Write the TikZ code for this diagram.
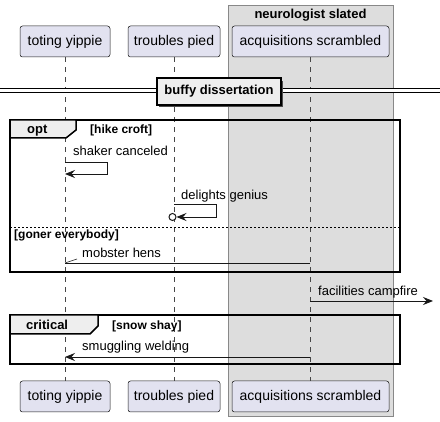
\documentclass[tikz,border=0pt]{standalone}
\usepackage{fontspec}
\setmainfont{Liberation Sans}
\usetikzlibrary{arrows.meta}
\definecolor{partfill}{HTML}{E2E2F0}
\definecolor{partdraw}{HTML}{181818}
\definecolor{boxfill}{HTML}{DDDDDD}
\definecolor{boxdraw}{HTML}{888888}
\definecolor{tabfill}{HTML}{EEEEEE}
\begin{document}
\begin{tikzpicture}[x=1pt,y=-1pt,
  part/.style={draw=partdraw, line width=0.5pt, fill=partfill, rounded corners=2.5pt,
    minimum height=31pt, inner sep=0pt, font=\fontsize{14}{16}\selectfont},
  life/.style={draw=partdraw!80, line width=0.5pt, dash pattern=on 5pt off 5pt},
  msg/.style={draw=partdraw, line width=0.9pt},
  tip/.style={-{Stealth[length=10pt,width=8pt,inset=3.5pt]}},
  lbl/.style={font=\fontsize{13}{15}\selectfont, inner sep=0pt},
  frame/.style={draw=black, line width=1.5pt},
  tab/.style={draw=black, line width=1.5pt, fill=tabfill},
  blbl/.style={font=\bfseries\fontsize{13}{15}\selectfont, inner sep=0pt},
  glbl/.style={font=\bfseries\fontsize{12}{14}\selectfont, inner sep=0pt}]
\useasboundingbox (0,0) rectangle (440,422);
% group box
\fill[boxfill, draw=boxdraw, line width=1pt] (228,6) rectangle (393,417);
\node[blbl, anchor=base] (boxtitle) at (310.5,18.5) {neurologist slated};
% participants
\node[part, minimum width=90pt] (t1) at (65,41.5) {toting yippie};
\node[part, minimum width=92pt] (t2) at (174,41.5) {troubles pied};
\node[part, minimum width=157pt] (t3) at (310.5,41.5) {acquisitions scrambled};
\node[part, minimum width=90pt] (b1) at (65,396.5) {toting yippie};
\node[part, minimum width=92pt] (b2) at (174,396.5) {troubles pied};
\node[part, minimum width=157pt] (b3) at (310.5,396.5) {acquisitions scrambled};
\draw[life] (t1.south) -- (b1.north);
\draw[life] (t2.south) -- (b2.north);
\draw[life] (t3.south) -- (b3.north);
% divider
\coordinate (dl) at (0,91);
\coordinate (dr) at (440,91);
\draw[double=white, double distance=3pt, line width=1pt] (dl) -- (dr);
\fill[black!70] (159,81) rectangle (283,107);
\node[draw=black, line width=1.5pt, fill=tabfill, blbl, minimum width=124pt, minimum height=27pt] (div) at (219,91.5) {buffy dissertation};
% opt frame
\draw[frame] (10,120) rectangle (400,272);
\draw[tab] (10,120) -- (76,120) -- (76,130) -- (66,138) -- (10,138) -- cycle;
\node[blbl, anchor=base west] (optl) at (27,134) {opt};
\node[glbl, anchor=base west] (optg) at (90,134) {[hike croft]};
% shaker canceled
\coordinate (s1) at (65,162);
\coordinate (s2) at (107,162);
\coordinate (s3) at (107,174);
\coordinate (s4) at (65,174);
\draw[msg, tip] (s1) -- (s2) -- (s3) -- (s4);
\node[lbl, anchor=base west] (sl) at (73,156) {shaker canceled};
% delights genius
\coordinate (d1) at (174,204);
\coordinate (d2) at (216,204);
\coordinate (d3) at (216,217);
\coordinate (d4) at (176.5,217);
\draw[msg, tip] (d1) -- (d2) -- (d3) -- (d4);
\node[draw=partdraw, line width=1pt, fill=white, circle, minimum size=7pt, inner sep=0pt] (dc) at (172.5,217) {};
\node[lbl, anchor=base west] (dlab) at (181,199.5) {delights genius};
% else
\draw[line width=0.8pt, dash pattern=on 2pt off 2pt] (10,227) -- (400,227);
\node[glbl, anchor=base west] (elsel) at (14,239) {[goner everybody]};
% mobster hens
\coordinate (m1) at (310,263);
\coordinate (m2) at (65,263);
\draw[msg] (m1) -- (m2);
\draw[msg, line width=0.6pt] (m2) -- ++(12,-4);
\node[lbl, anchor=base west] (ml) at (82,257.5) {mobster hens};
% facilities campfire
\coordinate (f1) at (310,301);
\coordinate (f2) at (433,301);
\draw[msg, tip] (f1) -- (f2);
\node[lbl, anchor=base west] (fl) at (318,295.5) {facilities campfire};
% critical frame
\draw[frame] (10,315) rectangle (400,364);
\draw[tab] (10,315) -- (98,315) -- (98,326) -- (90,334) -- (10,334) -- cycle;
\node[blbl, anchor=base west] (crl) at (26,329.5) {critical};
\node[glbl, anchor=base west] (crg) at (112,329.5) {[snow shay]};
% smuggling welding
\coordinate (w1) at (310,357);
\coordinate (w2) at (65,357);
\draw[msg, tip] (w1) -- (w2);
\node[lbl, anchor=base west] (wl) at (82,350.5) {smuggling welding};
\end{tikzpicture}
\end{document}
